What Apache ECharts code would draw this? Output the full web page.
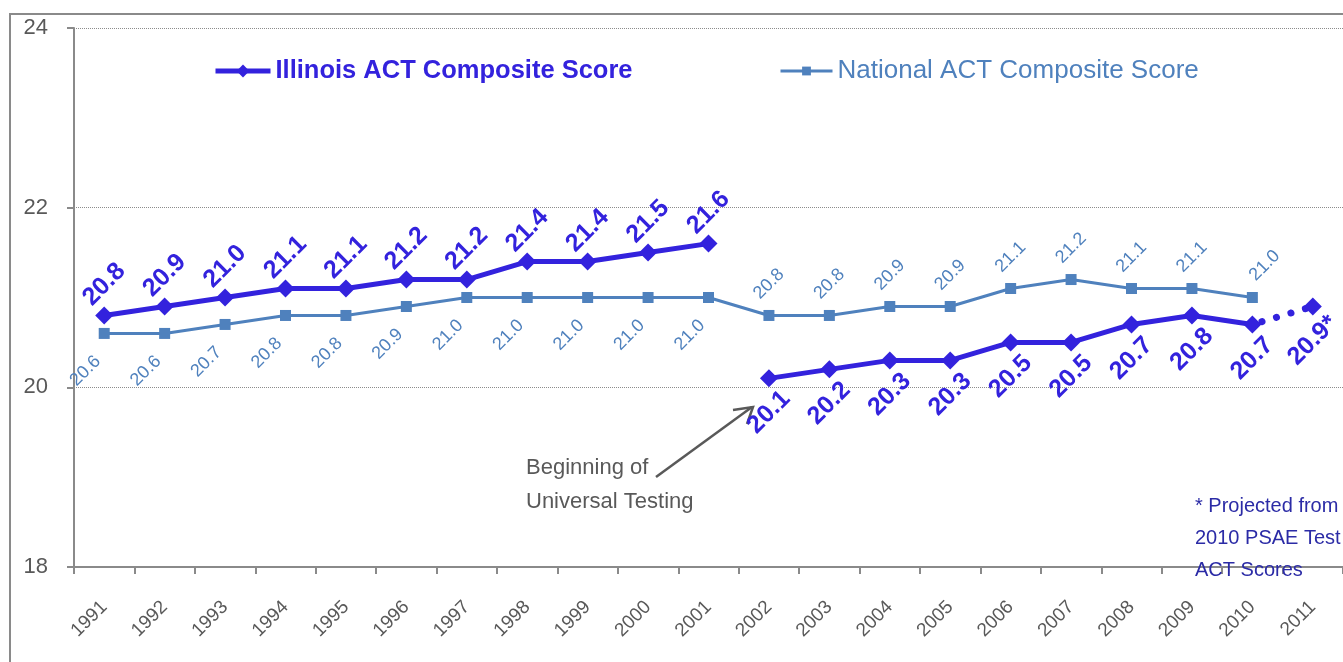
<!DOCTYPE html>
<html>
<head>
<meta charset="utf-8">
<script src="https://cdn.jsdelivr.net/npm/echarts@6/dist/echarts.min.js"></script>
<style>
  html, body { margin: 0; padding: 0; background: #fff; }
  #chart { width: 1343px; height: 662px; }
</style>
</head>
<body>
<div id="chart"></div>
<script>
// ---- data ----
const years = ['1991','1992','1993','1994','1995','1996','1997','1998','1999','2000',
  '2001','2002','2003','2004','2005','2006','2007','2008','2009','2010','2011']
const illinoisBefore = [20.8, 20.9, 21.0, 21.1, 21.1, 21.2, 21.2, 21.4, 21.4, 21.5, 21.6]
const illinoisAfter = [20.1, 20.2, 20.3, 20.3, 20.5, 20.5, 20.7, 20.8, 20.7]
const illinoisProjected = [20.7, 20.9]
const national = [20.6, 20.6, 20.7, 20.8, 20.8, 20.9, 21.0, 21.0, 21.0, 21.0, 21.0,
  20.8, 20.8, 20.9, 20.9, 21.1, 21.2, 21.1, 21.1, 21.0]
const yTicks = [18, 20, 22, 24]

const FONT = '"Liberation Sans Narrow", "Arial Narrow", "Liberation Sans", Arial, sans-serif'
const IL = '#3322dd'
const NAT = '#4f81bd'
const GREY = '#595959'

// place values on the full year axis
function pad(values, start) {
  const out = years.map(() => null)
  values.forEach((v, i) => { out[start + i] = v })
  return out
}

const ilLabelUp = {
  show: true, position: 'top', distance: 22, rotate: 45,
  align: 'center', verticalAlign: 'middle',
  color: IL, fontFamily: FONT, fontWeight: 'bold', fontSize: 25,
  formatter: p => p.value.toFixed(1)
}
const ilLabelDown = Object.assign({}, ilLabelUp, { position: 'bottom', distance: 25 })

const natAfter = illinoisBefore.length
const nationalData = national.map((v, i) => {
  if (i < natAfter) return v
  if (i === national.length - 1) {
    // last label sits a little to the right
    return { value: v, label: { position: 'top', align: 'left', verticalAlign: 'middle', distance: 14 } }
  }
  return { value: v, label: { position: 'top', align: 'center', verticalAlign: 'middle', distance: 26 } }
})

const projData = pad(illinoisProjected, years.length - 2).map((v, i) => {
  if (v == null) return null
  if (i === years.length - 2) return { value: v, symbol: 'none', label: { show: false } }
  return v
})

const myChart = echarts.init(document.getElementById('chart'))
const option = {
  backgroundColor: '#fff',
  animation: false,
  grid: { left: 74, top: 28, bottom: 95, right: -8 },
  legend: [
    {
      left: 208, top: 53, itemWidth: 55, itemHeight: 16, itemGap: 0,
      data: [{ name: 'Illinois ACT Composite Score', lineStyle: { width: 5 } }],
      textStyle: { color: IL, fontFamily: FONT, fontWeight: 'bold', fontSize: 25.5 }
    },
    {
      left: 774, top: 53, itemWidth: 52, itemHeight: 11, itemGap: 0,
      data: [{ name: 'National ACT Composite Score', lineStyle: { width: 3 } }],
      textStyle: { color: NAT, fontFamily: FONT, fontSize: 26 }
    }
  ],
  xAxis: {
    type: 'category',
    data: years,
    boundaryGap: true,
    axisLine: { lineStyle: { color: '#8a8a8a', width: 2 } },
    axisTick: { show: true, length: 7, lineStyle: { color: '#8a8a8a', width: 2 } },
    axisLabel: {
      rotate: 45, interval: 0, margin: 37, verticalAlign: 'middle',
      color: GREY, fontFamily: FONT, fontSize: 19
    }
  },
  yAxis: {
    type: 'value',
    min: yTicks[0], max: yTicks[yTicks.length - 1], interval: 2,
    axisLine: { show: true, lineStyle: { color: '#8a8a8a', width: 2 } },
    axisTick: { show: true, length: 7, lineStyle: { color: '#8a8a8a', width: 2 } },
    axisLabel: { margin: 26, color: GREY, fontFamily: FONT, fontSize: 22 },
    splitLine: { lineStyle: { color: '#8c8c8c', type: 'dotted', width: 1 } }
  },
  series: [
    {
      name: 'National ACT Composite Score',
      type: 'line',
      data: nationalData,
      symbol: 'rect', symbolSize: 11,
      color: NAT,
      lineStyle: { width: 3, color: NAT },
      itemStyle: { color: NAT },
      label: {
        show: true, position: 'bottom', distance: 26, rotate: 45,
        align: 'right', verticalAlign: 'bottom',
        color: NAT, fontFamily: FONT, fontSize: 18,
        formatter: p => p.value.toFixed(1)
      },
      z: 2
    },
    {
      name: 'Illinois ACT Composite Score',
      type: 'line',
      data: pad(illinoisBefore, 0),
      symbol: 'diamond', symbolSize: 18,
      color: IL,
      lineStyle: { width: 5, color: IL },
      itemStyle: { color: IL },
      label: ilLabelUp,
      z: 3
    },
    {
      name: 'Illinois (universal testing)',
      type: 'line',
      data: pad(illinoisAfter, illinoisBefore.length),
      symbol: 'diamond', symbolSize: 18,
      color: IL,
      lineStyle: { width: 5, color: IL },
      itemStyle: { color: IL },
      label: ilLabelDown,
      z: 3
    },
    {
      name: 'Illinois (projected)',
      type: 'line',
      data: projData,
      symbol: 'diamond', symbolSize: 18,
      color: IL,
      lineStyle: { width: 7, color: IL, type: [0.1, 15], cap: 'round', dashOffset: -10 },
      itemStyle: { color: IL },
      label: Object.assign({}, ilLabelDown, { formatter: p => p.value.toFixed(1) + '*' }),
      z: 3
    }
  ],
  graphic: [
    {
      type: 'rect', silent: true, z: 0,
      shape: { x: 10, y: 14, width: 1400, height: 700 },
      style: { fill: null, stroke: '#8a8a8a', lineWidth: 2 }
    },
    {
      type: 'line', silent: true,
      shape: { x1: 656, y1: 477, x2: 752, y2: 407 },
      style: { stroke: GREY, lineWidth: 2.5 }
    },
    {
      type: 'polyline', silent: true,
      shape: { points: [[733, 410], [753, 407], [747, 424]] },
      style: { stroke: GREY, lineWidth: 2.5, fill: null }
    },
    { type: 'text', silent: true, x: 526, y: 468,
      style: { text: 'Beginning of', fill: GREY, font: '22px ' + FONT, verticalAlign: 'middle' } },
    { type: 'text', silent: true, x: 526, y: 502,
      style: { text: 'Universal Testing', fill: GREY, font: '22px ' + FONT, verticalAlign: 'middle' } },
    { type: 'text', silent: true, x: 1195, y: 506, z: 10,
      style: { text: '* Projected from', fill: '#2b2ba6', font: '20px ' + FONT, verticalAlign: 'middle' } },
    { type: 'text', silent: true, x: 1195, y: 538, z: 10,
      style: { text: '2010 PSAE Test', fill: '#2b2ba6', font: '20px ' + FONT, verticalAlign: 'middle' } },
    { type: 'text', silent: true, x: 1195, y: 570, z: 10,
      style: { text: 'ACT Scores', fill: '#2b2ba6', font: '20px ' + FONT, verticalAlign: 'middle' } }
  ]
}
myChart.setOption(option)
</script>
</body>
</html>
